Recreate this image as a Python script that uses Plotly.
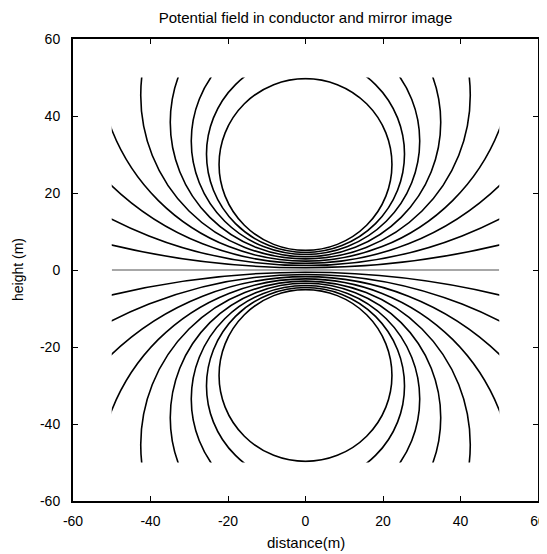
import plotly.graph_objects as go

# ---- data ----
# Equipotential lines are circles centred on the y axis (upper half; lower half is the mirror image)
contour_center_y = [27.4, 30.1, 33.5, 38.35, 45.4, 56.0, 73.9, 110.9, 215.0]
contour_radius = [22.31, 25.55, 29.48, 34.90, 42.52, 53.69, 72.17, 109.75, 214.41]
# zero-potential line (ground plane)
zero_contour_x = [-50, 50]
zero_contour_y = [0, 0]
# extent of the computed field (lines are clipped to this box)
field_x_range = [-50, 50]
field_y_range = [-50, 50]
axis_range = [-60, 60]
tick_values = [-60, -40, -20, 0, 20, 40, 60]
tick_labels = ["-60", "-40", "-20", "0", "20", "40", "60"]

# page has an 8px body margin; figure coordinates = page coordinates - 8
W, H = 539, 546
ML, MR, MT, MB = 65, 9, 31, 53
PW, PH = W - ML - MR, H - MT - MB

font_family = "Liberation Sans, Arial, sans-serif"

fig = go.Figure()

# invisible trace so the main (framed) axes are drawn
fig.add_trace(go.Scatter(x=axis_range, y=axis_range, mode="markers",
                         marker=dict(opacity=0), hoverinfo="skip", showlegend=False))

# zero line drawn on the clipped overlay axes
fig.add_trace(go.Scatter(x=zero_contour_x, y=zero_contour_y, xaxis="x2", yaxis="y2",
                         mode="lines", line=dict(color="#8a8a8a", width=1.5),
                         hoverinfo="skip", showlegend=False))

shapes = []
for c, r in zip(contour_center_y, contour_radius):
    for sign in (1, -1):
        shapes.append(dict(type="circle", xref="x2", yref="y2",
                           x0=-r, x1=r, y0=sign * c - r, y1=sign * c + r,
                           line=dict(color="black", width=1.6)))

span = axis_range[1] - axis_range[0]
dom = [(field_x_range[0] - axis_range[0]) / span, (field_x_range[1] - axis_range[0]) / span]
domy = [(field_y_range[0] - axis_range[0]) / span, (field_y_range[1] - axis_range[0]) / span]

axis_common = dict(range=axis_range, tickvals=tick_values, ticktext=tick_labels,
                   ticks="inside", ticklen=5, tickwidth=1, tickcolor="black",
                   showline=True, linecolor="black", linewidth=2, mirror="ticks",
                   showgrid=False, zeroline=False, automargin=False, fixedrange=True,
                   tickfont=dict(family=font_family, size=14, color="black"))

fig.update_layout(
    width=W, height=H,
    margin=dict(l=ML, r=MR, t=MT, b=MB),
    paper_bgcolor="white", plot_bgcolor="white",
    showlegend=False,
    shapes=shapes,
    xaxis=dict(**axis_common, ticklabelstandoff=6),
    yaxis=dict(**axis_common, ticklabelstandoff=8),
    xaxis2=dict(domain=dom, range=field_x_range, visible=False, anchor="y2", fixedrange=True),
    yaxis2=dict(domain=domy, range=field_y_range, visible=False, anchor="x2", fixedrange=True),
    title=dict(text="Potential field in conductor and mirror image",
               font=dict(family=font_family, size=15, color="black"),
               x=0.5, xref="paper", xanchor="center",
               y=1 - 10 / H, yref="container", yanchor="middle"),
    annotations=[
        dict(text="distance(m)", xref="paper", yref="paper", x=0.5,
             y=-(534 - (H - MB)) / PH, xanchor="center", yanchor="middle",
             showarrow=False, font=dict(family=font_family, size=15, color="black")),
        dict(text="height (m)", xref="paper", yref="paper",
             x=(10 - ML) / PW, y=0.5, xanchor="center", yanchor="middle",
             textangle=-90, showarrow=False,
             font=dict(family=font_family, size=14, color="black")),
    ],
)

fig.write_html("out.html")
